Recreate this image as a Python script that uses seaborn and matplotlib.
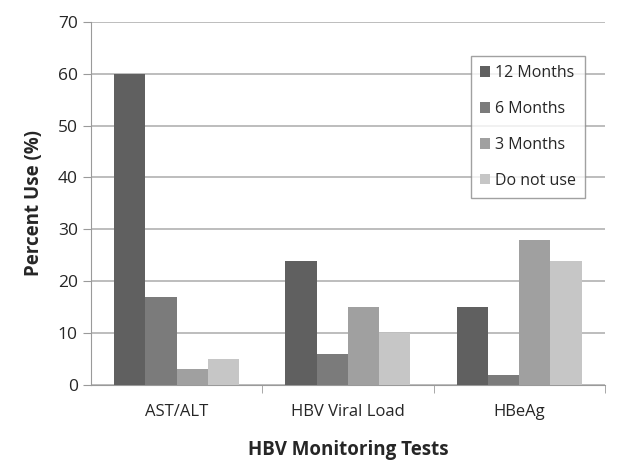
import numpy as np
import pandas as pd
import matplotlib
matplotlib.use('Agg')
import matplotlib.pyplot as plt
import seaborn as sns

# ── Data ─────────────────────────────────────────────────────
tests     = ['AST/ALT', 'HBV Viral Load', 'HBeAg']
intervals = ['12 Months', '6 Months', '3 Months', 'Do not use']
m12       = [60, 24, 15]
m6        = [17, 6, 2]
m3        = [3, 15, 28]
no_use    = [5, 10, 24]

colors = ['#606060', '#7b7b7b', '#a0a0a0', '#c6c6c6']

df = pd.DataFrame({
    'Test':     tests * 4,
    'Interval': [i for i in intervals for _ in tests],
    'Percent':  m12 + m6 + m3 + no_use,
})

sns.set_style('white')
plt.rcParams['font.family'] = ['Open Sans', 'DejaVu Sans']

fig = plt.figure(figsize=(6.25, 4.65), dpi=100)
ax  = fig.add_axes([0.1456, 0.172, 0.822, 0.781])

sns.barplot(data=df, x='Test', y='Percent', hue='Interval',
            order=tests, hue_order=intervals, palette=colors,
            width=0.73, saturation=1, linewidth=0, ax=ax, zorder=3)

ax.set_ylim(0, 70)
ax.set_xlim(-0.5, 2.5)
ax.set_yticks(np.arange(0, 71, 10))
ax.grid(axis='y', color='#bdbdbd', linewidth=1.4, zorder=0)
ax.set_axisbelow(True)

for s in ['top', 'right']:
    ax.spines[s].set_visible(False)
for s in ['left', 'bottom']:
    ax.spines[s].set_color('#9a9a9a')

# tick marks between categories, Excel style
ax.set_xticks([0.5, 1.5, 2.5], minor=True)
ax.tick_params(axis='x', which='major', length=0, labelsize=12, pad=14)
ax.tick_params(axis='x', which='minor', length=6, color='#9a9a9a', bottom=True)
ax.tick_params(axis='y', length=6, color='#9a9a9a', labelsize=12.5, left=True)

ax.set_xlabel('HBV Monitoring Tests', fontsize=13.5, fontweight='bold', labelpad=14)
ax.set_ylabel('Percent Use (%)', fontsize=13.5, fontweight='bold', labelpad=10)

leg = ax.legend(loc='upper right', bbox_to_anchor=(0.962, 0.905),
                fontsize=11.5, frameon=True, fancybox=False,
                edgecolor='#8a8a8a', handlelength=0.6, handleheight=0.6,
                handletextpad=0.35, labelspacing=1.25, borderpad=0.55,
                borderaxespad=0)
leg.get_frame().set_linewidth(1.0)

plt.savefig('out.png', dpi=100)
plt.close()
